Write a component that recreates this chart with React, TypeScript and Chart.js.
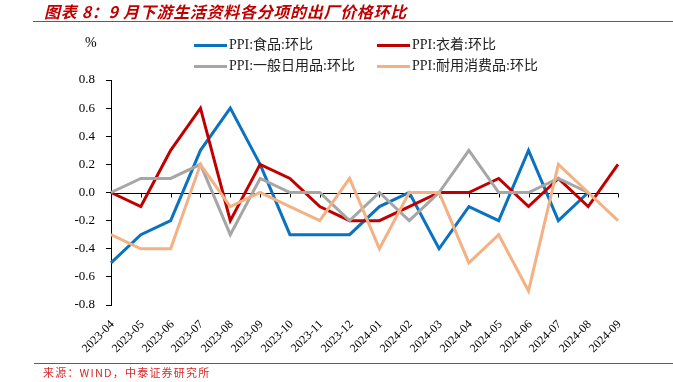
import React, { useEffect, useRef, useState } from 'react';
import { Chart, registerables } from 'chart.js';

Chart.register(...registerables);

const categories = [
  '2023-04', '2023-05', '2023-06', '2023-07', '2023-08', '2023-09',
  '2023-10', '2023-11', '2023-12', '2024-01', '2024-02', '2024-03',
  '2024-04', '2024-05', '2024-06', '2024-07', '2024-08', '2024-09',
];
const foodValues = [-0.5, -0.3, -0.2, 0.3, 0.6, 0.2, -0.3, -0.3, -0.3, -0.1, 0.0, -0.4, -0.1, -0.2, 0.3, -0.2, 0.0, null];
const clothingValues = [0.0, -0.1, 0.3, 0.6, -0.2, 0.2, 0.1, -0.1, -0.2, -0.2, -0.1, 0.0, 0.0, 0.1, -0.1, 0.1, -0.1, 0.2];
const dailyValues = [0.0, 0.1, 0.1, 0.2, -0.3, 0.1, 0.0, 0.0, -0.2, 0.0, -0.2, 0.0, 0.3, 0.0, 0.0, 0.1, 0.0, null];
const durableValues = [-0.3, -0.4, -0.4, 0.2, -0.1, 0.0, -0.1, -0.2, 0.1, -0.4, 0.0, 0.0, -0.5, -0.3, -0.7, 0.2, 0.0, -0.2];
const seriesNames = ['PPI:食品:环比', 'PPI:衣着:环比', 'PPI:一般日用品:环比', 'PPI:耐用消费品:环比'];
const seriesColors = ['#0b72c0', '#c00000', '#a6a6a6', '#f4b183'];
const yMin = -0.8;
const yMax = 0.8;
const yStep = 0.2;

const titleText = '图表 8：9 月下游生活资料各分项的出厂价格环比';
const sourceText = '来源：WIND，中泰证券研究所';
const unitText = '%';

const serif = '"Liberation Serif", "Times New Roman", "Noto Sans CJK SC", serif';

const zeroAxisPlugin = {
  id: 'zeroAxis',
  beforeDatasetsDraw(chart: any) {
    const { ctx, chartArea, scales } = chart;
    const x = scales.x;
    const y = scales.y;
    const y0 = Math.round(y.getPixelForValue(0)) + 0.5;
    ctx.save();
    ctx.strokeStyle = '#000';
    ctx.lineWidth = 1;
    ctx.beginPath();
    ctx.moveTo(chartArea.left, y0);
    ctx.lineTo(chartArea.right, y0);
    categories.forEach((_, i) => {
      const px = Math.round(x.getPixelForValue(i)) + 0.5;
      ctx.moveTo(px, y0);
      ctx.lineTo(px, y0 + 4);
    });
    ctx.stroke();
    ctx.restore();
  },
};

export default function App() {
  const canvasRef = useRef<HTMLCanvasElement | null>(null);
  const [labelPos, setLabelPos] = useState<{ x: number; y: number }[]>([]);

  useEffect(() => {
    document.body.style.margin = '0';
    const canvas = canvasRef.current;
    if (!canvas) return;
    const allValues = [foodValues, clothingValues, dailyValues, durableValues];
    const chart = new Chart(canvas, {
      type: 'line',
      data: {
        labels: categories,
        datasets: allValues.map((vals, i) => ({
          label: seriesNames[i],
          data: vals,
          borderColor: seriesColors[i],
          backgroundColor: seriesColors[i],
          borderWidth: 3,
          pointRadius: 0,
          tension: 0,
          fill: false,
          spanGaps: false,
          order: 4 - i,
        })),
      },
      options: {
        responsive: false,
        animation: false,
        devicePixelRatio: 1,
        layout: { padding: { left: 61, right: 55, top: 80, bottom: 20 } },
        plugins: {
          legend: { display: false },
          tooltip: { enabled: false },
        },
        scales: {
          x: {
            type: 'category',
            offset: false,
            grid: { display: false, drawTicks: false },
            border: { display: false },
            ticks: { display: false, autoSkip: false },
            afterFit: (s: any) => { s.height = 57; },
          },
          y: {
            min: yMin,
            max: yMax,
            ticks: {
              stepSize: yStep,
              padding: 11,
              color: '#000',
              font: { family: serif, size: 13 },
              callback: (v: any) => (Math.abs(Number(v)) < 1e-9 ? '0.0' : Number(v).toFixed(1)),
            },
            grid: { drawOnChartArea: false, drawTicks: true, tickLength: 5, color: '#000' },
            border: { display: true, color: '#000', width: 1 },
            afterFit: (s: any) => { s.width = 50; },
          },
        },
      },
      plugins: [zeroAxisPlugin],
    });
    const xs = chart.scales.x;
    setLabelPos(categories.map((_, i) => ({ x: xs.getPixelForValue(i), y: chart.chartArea.bottom })));
    return () => chart.destroy();
  }, []);

  const legendRows = [
    { y: 45, items: [0, 1] },
    { y: 66, items: [2, 3] },
  ];
  const legendCols = [194, 377];

  return (
    <div style={{ position: 'fixed', left: 0, top: 0, width: 673, height: 382, background: '#fff', overflow: 'hidden' }}>
      <canvas ref={canvasRef} width={673} height={382} style={{ position: 'absolute', left: 0, top: 0, width: 673, height: 382 }} />
      {labelPos.map((p, i) => (
        <div key={categories[i]} style={{ position: 'absolute', right: 673 - (p.x + 1), top: p.y + 17 - 7, height: 14, lineHeight: '14px', fontFamily: serif, fontSize: 12, color: '#000', whiteSpace: 'nowrap', transformOrigin: 'right center', transform: 'rotate(-45deg)' }}>{categories[i]}</div>
      ))}
      <div style={{ position: 'absolute', left: 44, top: 2, fontFamily: '"Noto Sans CJK SC", sans-serif', fontWeight: 700, fontStyle: 'italic', fontSize: 16, lineHeight: '18px', letterSpacing: 0.7, color: '#c00000', whiteSpace: 'nowrap' }}>{titleText}</div>
      <div style={{ position: 'absolute', left: 33, top: 21, width: 640, height: 1, background: '#d52b2b' }} />
      <div style={{ position: 'absolute', left: 85, top: 35, fontFamily: serif, fontSize: 14, lineHeight: '16px', color: '#000' }}>{unitText}</div>
      {legendRows.map((row) => row.items.map((idx, c) => (
        <React.Fragment key={idx}>
          <div style={{ position: 'absolute', left: legendCols[c], top: row.y - 1.5, width: 33, height: 3, background: seriesColors[idx] }} />
          <div style={{ position: 'absolute', left: legendCols[c] + 35, top: row.y - 8, fontFamily: serif, fontSize: 14, lineHeight: '16px', color: '#222', whiteSpace: 'nowrap' }}>{seriesNames[idx]}</div>
        </React.Fragment>
      )))}
      <div style={{ position: 'absolute', left: 34, top: 363, width: 639, height: 1, background: '#d52b2b' }} />
      <div style={{ position: 'absolute', left: 43, top: 366, fontFamily: '"Noto Sans CJK SC", sans-serif', fontSize: 11, lineHeight: '13px', letterSpacing: 1.2, color: '#d52b2b', whiteSpace: 'nowrap' }}>{sourceText}</div>
    </div>
  );
}
